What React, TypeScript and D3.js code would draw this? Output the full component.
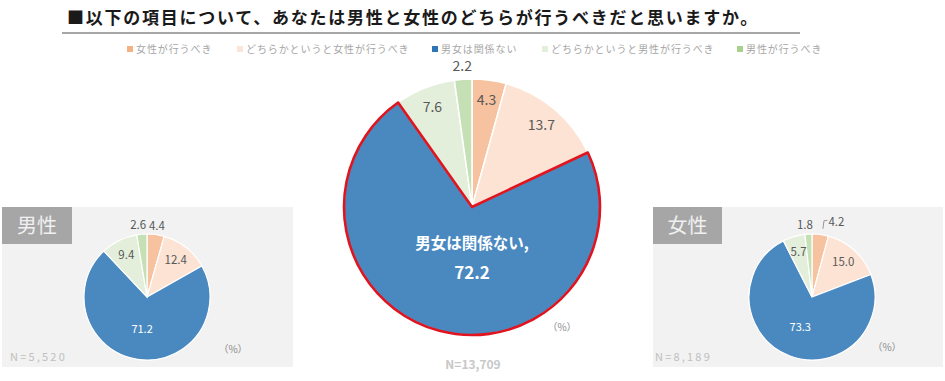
import React from "react";
import * as d3 from "d3";

const categories = [
  "女性が行うべき",
  "どちらかというと女性が行うべき",
  "男女は関係ない",
  "どちらかというと男性が行うべき",
  "男性が行うべき",
];
const totalValues = [4.3, 13.7, 72.2, 7.6, 2.2];
const maleValues = [4.4, 12.4, 71.2, 9.4, 2.6];
const femaleValues = [4.2, 15.0, 73.3, 5.7, 1.8];
const colors = ["#f6c2a0", "#fce3d4", "#4a89bf", "#e3efdb", "#c5e0b4"];
const legendSquareColors = ["#f4b183", "#fbe5d6", "#2e75b6", "#e2f0d9", "#a9d18e"];

const FONT = "'Noto Sans CJK JP', 'Noto Sans', sans-serif";
const TEXT = "#595959";

type PieProps = {
  values: number[];
  cx: number;
  cy: number;
  r: number;
  big: boolean;
};

function Pie({ values, cx, cy, r, big }: PieProps) {
  const pie = d3.pie<number>().sort(null).value((d) => d)(values);
  const arc = d3.arc<d3.PieArcDatum<number>>().innerRadius(0).outerRadius(r);
  const threshold = big ? 3 : 5;
  const inFactor = big ? 0.84 : 0.74;
  const labels = pie.map((p, i) => {
    const a = (p.startAngle + p.endAngle) / 2;
    const v = values[i];
    const fmt = v.toFixed(1);
    if (i === 2) {
      if (big) {
        return (
          <g key={i}>
            <text x={cx} y={cy + 0.33 * r} textAnchor="middle" fill="#fff" fontSize={15.5} fontWeight={700} fontFamily={FONT}>
              男女は関係ない,
            </text>
            <text x={cx} y={cy + 0.56 * r} textAnchor="middle" fill="#fff" fontSize={17} fontWeight={700} fontFamily={FONT}>
              {fmt}
            </text>
          </g>
        );
      }
      const rr = 0.52 * r;
      return (
        <text key={i} x={cx + Math.sin(a) * rr} y={cy - Math.cos(a) * rr} dy="0.35em" textAnchor="middle" fill="#fff" fontSize={11} fontFamily={FONT}>
          {fmt}
        </text>
      );
    }
    if (v >= threshold) {
      const rr = inFactor * r;
      return (
        <text key={i} x={cx + Math.sin(a) * rr} y={cy - Math.cos(a) * rr} dy="0.35em" textAnchor="middle" fill={TEXT} fontSize={big ? 14 : 11.5} fontFamily={FONT}>
          {fmt}
        </text>
      );
    }
    const rr = big ? 1.1 * r : 1.14 * r;
    let x = cx + Math.sin(a) * rr;
    let y = cy - Math.cos(a) * rr;
    const lead = !big && v > 4 && values[3] < 7;
    if (lead) {
      x += 15;
      y -= 4;
    } else if (!big) {
      x += Math.sin(a) > 0 ? 0 : -3;
    }
    return (
      <g key={i}>
        {lead && (
          <path
            d={`M${x - 13.5},${y + 7} L${x - 12.5},${y - 1} L${x - 9},${y - 1.5}`}
            fill="none"
            stroke="#8c8c8c"
            strokeWidth={0.9}
          />
        )}
        <text x={x} y={y} dy="0.35em" textAnchor="middle" fill={TEXT} fontSize={big ? 14 : 11.5} fontFamily={FONT}>
          {fmt}
        </text>
      </g>
    );
  });
  return (
    <g>
      {pie.map((p, i) => (
        <path key={i} d={arc(p) || ""} transform={`translate(${cx},${cy})`} fill={colors[i]} stroke="#fff" strokeWidth={big ? 1.5 : 1.2} />
      ))}
      {big && (
        <path d={arc(pie[2]) || ""} transform={`translate(${cx},${cy})`} fill="none" stroke="#e0141e" strokeWidth={2.6} strokeLinejoin="round" />
      )}
      {labels}
    </g>
  );
}

export default function App() {
  const W = 945;
  const H = 381;
  const legendX = [127, 237, 432, 542, 737];
  return (
    <svg width={W} height={H} style={{ position: "absolute", left: 0, top: 0, background: "#fff" }}>
      <rect x={0} y={0} width={W} height={H} fill="#fff" />
      {/* title */}
      <text x={67} y={24} fontSize={17} fontWeight={700} fontFamily={FONT} fill="#1a1a1a" letterSpacing={1.75}>
        ■以下の項目について、あなたは男性と女性のどちらが行うべきだと思いますか。
      </text>
      <line x1={62} x2={800} y1={33} y2={33} stroke="#a6a6a6" strokeWidth={2} />
      {/* legend */}
      {categories.map((c, i) => (
        <g key={c}>
          <rect x={legendX[i]} y={46} width={6} height={6} fill={legendSquareColors[i]} />
          <text x={legendX[i] + 9} y={52.5} fontSize={10} fontFamily={FONT} fill="#a6a6a6" letterSpacing={0.9}>
            {c}
          </text>
        </g>
      ))}
      {/* male panel */}
      <rect x={2} y={207} width={291} height={160} fill="#f2f2f2" />
      <rect x={2} y={207} width={70} height={37} fill="#a6a6a6" />
      <text x={37} y={233} textAnchor="middle" fontSize={20} fontFamily={FONT} fill="#f0f0f0">
        男性
      </text>
      <Pie values={maleValues} cx={147} cy={297} r={63} big={false} />
      <text x={233} y={353} textAnchor="middle" fontSize={10} fontFamily={FONT} fill="#8c8c8c">
        （%）
      </text>
      <text x={10} y={361} fontSize={11} fontFamily={FONT} fill="#c0c0c0" letterSpacing={2.2}>
        N=5,520
      </text>
      {/* female panel */}
      <rect x={653} y={207} width={290} height={160} fill="#f2f2f2" />
      <rect x={653} y={207} width={69} height={37} fill="#a6a6a6" />
      <text x={687.5} y={233} textAnchor="middle" fontSize={20} fontFamily={FONT} fill="#f0f0f0">
        女性
      </text>
      <Pie values={femaleValues} cx={812} cy={297} r={63} big={false} />
      <text x={887} y={351} textAnchor="middle" fontSize={10} fontFamily={FONT} fill="#8c8c8c">
        （%）
      </text>
      <text x={655} y={361} fontSize={11} fontFamily={FONT} fill="#c0c0c0" letterSpacing={2.2}>
        N=8,189
      </text>
      {/* main pie */}
      <Pie values={totalValues} cx={472} cy={207} r={128} big={true} />
      <text x={562} y={331} textAnchor="middle" fontSize={10} fontFamily={FONT} fill="#8c8c8c">
        （%）
      </text>
      <text x={473} y={369} textAnchor="middle" fontSize={12} fontWeight={700} fontFamily={FONT} fill="#c8c8c8">
        N=13,709
      </text>
    </svg>
  );
}
